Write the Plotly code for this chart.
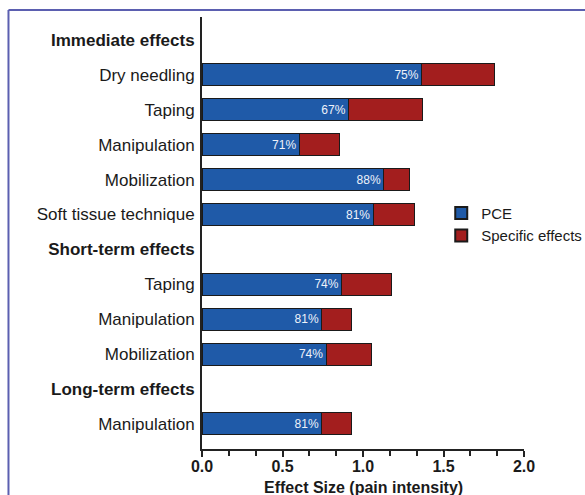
import plotly.graph_objects as go

row_labels = ["<b>Immediate effects</b>", "Dry needling", "Taping", "Manipulation",
              "Mobilization", "Soft tissue technique", "<b>Short-term effects</b>",
              "Taping", "Manipulation", "Mobilization", "<b>Long-term effects</b>",
              "Manipulation"]
bar_rows = [1, 2, 3, 4, 5, 7, 8, 9, 11]
pce = [1.365, 0.911, 0.605, 1.130, 1.064, 0.868, 0.745, 0.772, 0.745]
specific = [0.451, 0.457, 0.252, 0.158, 0.255, 0.310, 0.185, 0.278, 0.185]
pct_labels = ["75%", "67%", "71%", "88%", "81%", "74%", "81%", "74%", "81%"]
x_ticks = [0.0, 0.5, 1.0, 1.5, 2.0]
x_tick_text = ["<b>0.0</b>", "<b>0.5</b>", "<b>1.0</b>", "<b>1.5</b>", "<b>2.0</b>"]
x_title = "<b>Effect Size (pain intensity)</b>"

FONT = "Arial, Liberation Sans, sans-serif"
BLUE = "#1f5aa8"
RED = "#a31e1e"
EDGE = "#1a1a1a"

fig = go.Figure()
fig.add_trace(go.Bar(
    y=bar_rows, x=pce, orientation="h", name="PCE",
    marker=dict(color=BLUE, line=dict(color=EDGE, width=1)),
    width=0.63, text=pct_labels, textposition="inside", insidetextanchor="end",
    textfont=dict(color="#eef2fa", size=12, family=FONT), cliponaxis=False,
))
fig.add_trace(go.Bar(
    y=bar_rows, x=specific, orientation="h", name="Specific effects",
    marker=dict(color=RED, line=dict(color=EDGE, width=1)),
    width=0.63,
))

fig.update_layout(
    barmode="stack",
    width=585, height=495,
    margin=dict(l=202, r=61, t=17, b=46, autoexpand=False),
    paper_bgcolor="white", plot_bgcolor="white",
    font=dict(family=FONT, color="#1a1a1a"),
    showlegend=True,
    legend=dict(x=0.743, y=0.584, xanchor="left", yanchor="top", traceorder="normal",
                font=dict(size=15, family=FONT, color="#1a1a1a"),
                bgcolor="rgba(0,0,0,0)", tracegroupgap=0, itemsizing="constant"),
)
fig.update_xaxes(
    range=[0, 2.0], tickvals=x_ticks, ticktext=x_tick_text,
    tickfont=dict(size=16, family=FONT, color="#1a1a1a"),
    showgrid=False, zeroline=False, showline=True, linecolor="#222222", linewidth=2,
    ticks="outside", ticklen=6, tickwidth=2, tickcolor="#222222", ticklabelstandoff=-4,
    minor=dict(dtick=0.5 / 3, ticks="outside", ticklen=5, tickwidth=2, tickcolor="#222222"),
    automargin=False,
)
fig.update_yaxes(
    range=[11.72, -0.66], tickvals=list(range(len(row_labels))), ticktext=row_labels,
    tickfont=dict(size=17, family=FONT, color="#1a1a1a"),
    showgrid=False, zeroline=False, showline=True, linecolor="#222222", linewidth=2,
    ticks="", ticklabelstandoff=2, automargin=False,
)

fig.add_annotation(text=x_title, xref="paper", yref="paper", x=0.5, y=-0.088,
                   xanchor="center", yanchor="middle", showarrow=False,
                   font=dict(size=16, family=FONT, color="#1a1a1a"))

# decorative frame (left and top edges of the figure border)
fig.add_shape(type="line", xref="paper", yref="paper", x0=-0.601, x1=1.3, y0=1.016, y1=1.016,
              line=dict(color="#5b5fb0", width=2))
fig.add_shape(type="line", xref="paper", yref="paper", x0=-0.601, x1=-0.601, y0=1.016, y1=-0.2,
              line=dict(color="#5b5fb0", width=2))

fig.write_html("out.html")
